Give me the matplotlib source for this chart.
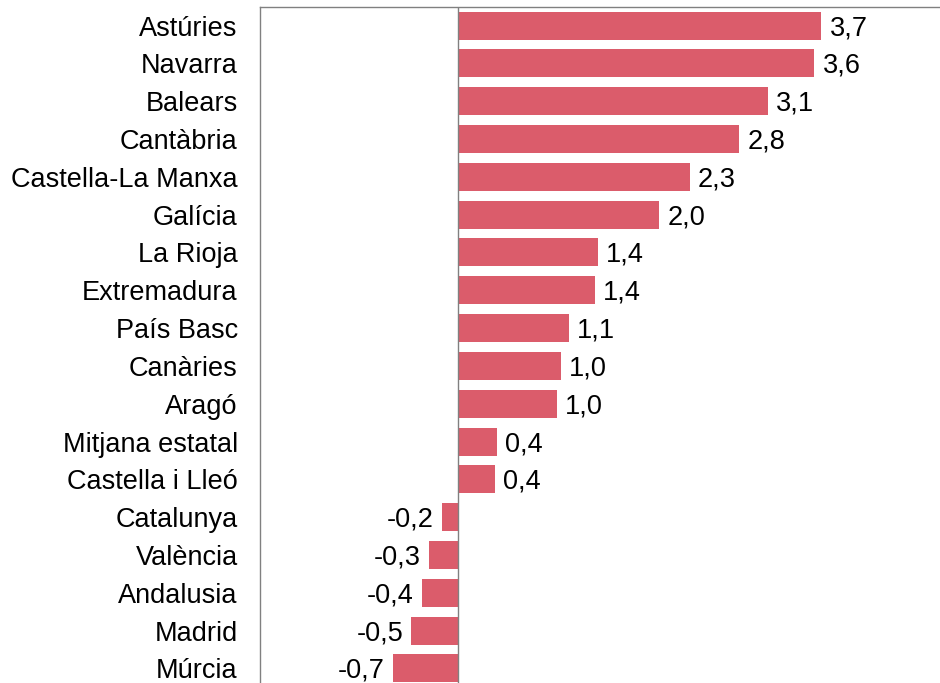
import matplotlib
matplotlib.use("Agg")
import matplotlib.pyplot as plt

regions = ["Astúries", "Navarra", "Balears", "Cantàbria", "Castella-La Manxa",
           "Galícia", "La Rioja", "Extremadura", "País Basc", "Canàries", "Aragó",
           "Mitjana estatal", "Castella i Lleó", "Catalunya", "València",
           "Andalusia", "Madrid", "Múrcia"]
values = [3.67, 3.60, 3.13, 2.84, 2.34, 2.03, 1.41, 1.38, 1.12, 1.04, 1.00,
          0.39, 0.37, -0.16, -0.29, -0.36, -0.47, -0.66]

plt.rcParams['font.family'] = ['Liberation Sans', 'DejaVu Sans']

fig = plt.figure(figsize=(9.4, 6.83), dpi=100)
ax = fig.add_axes([260/940, -4.4/683, 680/940, 680.8/683])

ypos = list(range(len(regions)))
bars = ax.barh(ypos, values, height=0.74, color='#DB5C6B', zorder=2)
labels = [f"{v:.1f}".replace('.', ',') for v in values]
texts = ax.bar_label(bars, labels=labels, padding=6, fontsize=19.5, color='black')
for t in texts:
    x0, y0 = t.xyann
    t.xyann = (x0, y0 - 1.8)

ax.set_yticks(ypos)
ax.set_yticklabels(regions, fontsize=19.5)
ax.set_ylim(len(regions) - 0.5, -0.5)
ax.set_xlim(-2.0, 4.87)
ax.set_xticks([])
ax.tick_params(axis='y', length=0, pad=16)

ax.axvline(0, color='#808080', linewidth=1.0, zorder=3)
for s in ['left', 'top']:
    ax.spines[s].set_color('#808080')
    ax.spines[s].set_linewidth(1.0)
ax.spines['right'].set_visible(False)
ax.spines['bottom'].set_visible(False)

fig.savefig("out.png", dpi=100)
